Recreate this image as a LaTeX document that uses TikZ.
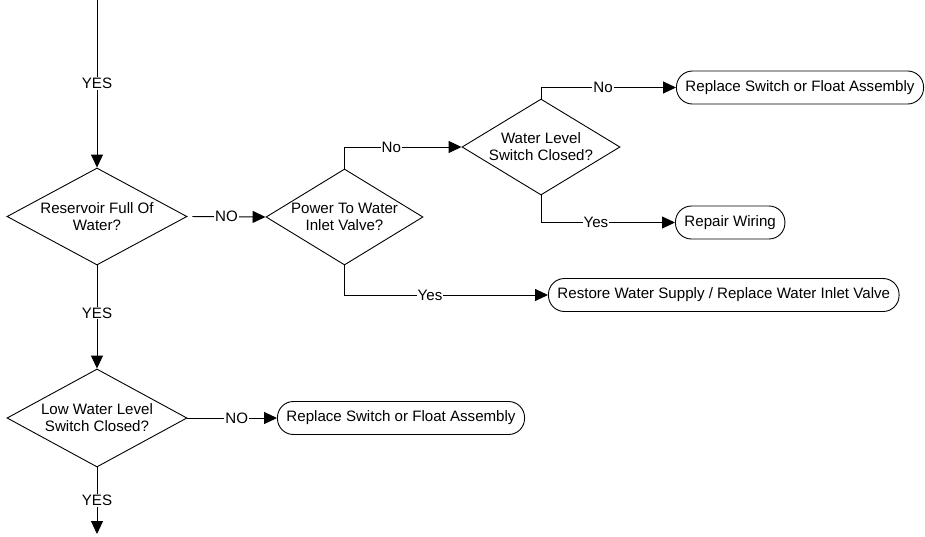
\documentclass[tikz,border=0pt]{standalone}
\usepackage{fontspec}
\setmainfont{Liberation Sans}
\usetikzlibrary{shapes,arrows.meta,positioning,calc}

\tikzset{
  decision/.style={diamond, draw, inner sep=0pt},
  action/.style={rectangle, draw, rounded corners=16pt, minimum height=33pt, inner xsep=9pt, anchor=west},
  flow/.style={-{Triangle[length=13pt,width=12pt]}},
  answer/.style={fill=white, inner sep=1pt},
}

\begin{document}
\begin{tikzpicture}[x=1pt,y=-1pt,line width=0.9pt,font=\fontsize{15.1}{17}\selectfont]
\useasboundingbox (0,0) rectangle (925,536);
% decisions
\node[decision, minimum width=180pt, minimum height=97pt,
      label={[align=center]center:Reservoir Full Of\\Water?}] (res) at (97,216.5) {};
\node[decision, minimum width=157pt, minimum height=96pt,
      label={[align=center]center:Power To Water\\Inlet Valve?}] (pow) at (344.5,217) {};
\node[decision, minimum width=158pt, minimum height=96pt,
      label={[align=center]center:Water Level\\Switch Closed?}] (wls) at (541,147) {};
\node[decision, minimum width=180pt, minimum height=98pt,
      label={[align=center]center:Low Water Level\\Switch Closed?}] (low) at (97,418) {};
% actions
\node[action] (rep1) at (676,87.5) {Replace Switch or Float Assembly};
\node[action] (wire) at (675,222.5) {Repair Wiring};
\node[action] (rest) at (548,295) {Restore Water Supply / Replace Water Inlet Valve};
\node[action] (rep2) at (277,418) {Replace Switch or Float Assembly};
% ends
\coordinate (start) at (97,0);
\coordinate (stop) at (97,534);
% connectors
\draw[flow] (start) -- node[answer] {YES} (res.north);
\draw[flow, shorten <=5pt] (res.east) -- node[answer] {NO} (pow.west);
\draw[flow] (pow.north) |- node[answer, pos=0.70] {No} (wls.west);
\draw[flow] (pow.south) |- node[answer, pos=0.71] {Yes} (rest.west);
\draw[flow] (wls.north) |- node[answer, pos=0.73] {No} (rep1.west);
\draw[flow] (wls.south) |- node[answer, pos=0.705] {Yes} (wire.west);
\draw[flow] (res.south) -- node[answer, pos=0.46] {YES} (low.north);
\draw[flow] (low.east) -- node[answer, pos=0.55] {NO} (rep2.west);
\draw[flow] (low.south) -- node[answer] {YES} (stop);
\end{tikzpicture}
\end{document}
